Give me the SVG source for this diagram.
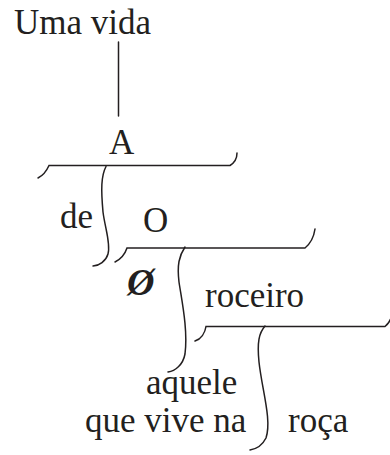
<svg xmlns="http://www.w3.org/2000/svg" width="390" height="455" viewBox="0 0 390 455">
<style>
.t{font-family:"Liberation Serif","Times New Roman",serif;font-size:35px;fill:#231f20}
.l{fill:none;stroke:#231f20;stroke-width:1.5;stroke-linecap:round}
</style>
<rect width="390" height="455" fill="#fff"/>
<g id="connectors">
<line class="l" x1="118.5" y1="42" x2="118.5" y2="116"/>
<path class="l" d="M38,178 C44,175 47,170 49,165.5 L230,165.5 C234,163 237,159 237,153"/>
<path class="l" d="M106,166.5 C101,176 101,190 103,212 C105,228 111,244 108,254 C106,261 99,266 93,266"/>
<path class="l" d="M115,262 C121,259 125,254 127,248 L305,248 C311,243 314,236 315,229"/>
<path class="l" d="M185,247 C179,256 177,265 179,282 C182,302 188,330 185,354 C183,365 175,371 168,372"/>
<path class="l" d="M195,341 C201,339 205,333 206,326.5 L385,326.5 C388,324 390,321 391,318"/>
<path class="l" d="M265,326 C259,333 257,342 259,362 C262,390 272,420 266,438 C262,446 256,449 250,450"/>
</g>
<g id="n-uma-vida"><text class="t" x="14" y="34">Uma vida</text></g>
<g id="n-a"><text class="t" x="109" y="154">A</text></g>
<g id="n-de"><text class="t" x="60" y="228">de</text></g>
<g id="n-o"><text class="t" x="143" y="232">O</text></g>
<g id="n-null"><text class="t" x="127" y="295" style="font-style:italic;font-weight:bold;font-size:38px">Ø</text></g>
<g id="n-roceiro"><text class="t" x="205" y="307">roceiro</text></g>
<g id="n-aquele"><text class="t" x="146" y="394">aquele</text></g>
<g id="n-que-vive-na"><text class="t" x="85" y="432">que vive na</text></g>
<g id="n-roca"><text class="t" x="288" y="432">roça</text></g>
</svg>
